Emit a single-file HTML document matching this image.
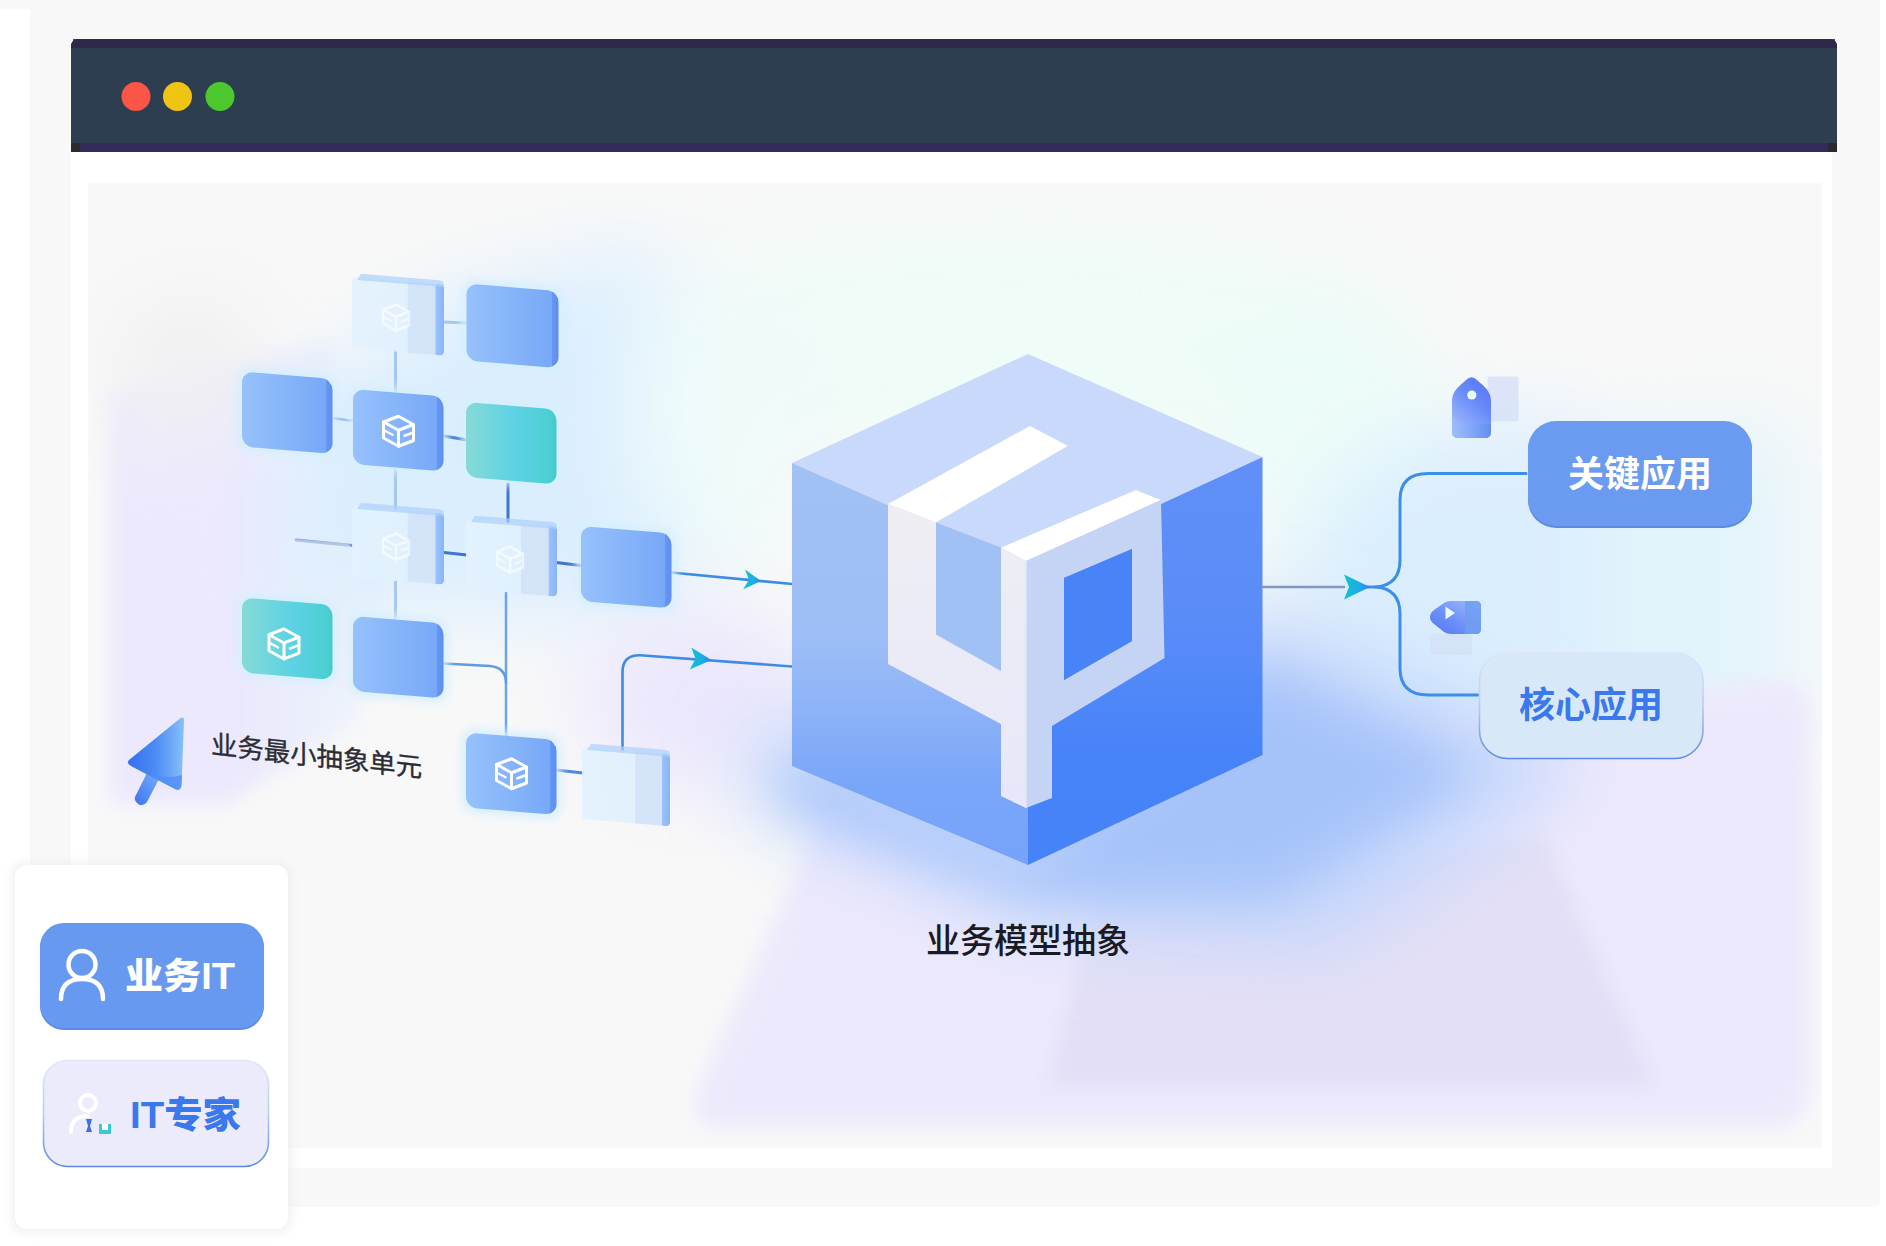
<!DOCTYPE html>
<html lang="zh-CN"><head><meta charset="utf-8"><title>业务模型抽象</title>
<style>
html,body{margin:0;padding:0;background:#fff;}
body{width:1886px;height:1246px;overflow:hidden;position:relative;font-family:"Liberation Sans","Noto Sans CJK SC",sans-serif;}
svg{position:absolute;left:0;top:0;display:block;}
text{font-family:"Liberation Sans","Noto Sans CJK SC",sans-serif;}
</style></head><body>
<svg width="1886" height="1246" viewBox="0 0 1886 1246">
<defs>
<filter id="b60" x="-50%" y="-50%" width="200%" height="200%"><feGaussianBlur stdDeviation="60"/></filter>
<filter id="b40" x="-50%" y="-50%" width="200%" height="200%"><feGaussianBlur stdDeviation="40"/></filter>
<filter id="b25" x="-50%" y="-50%" width="200%" height="200%"><feGaussianBlur stdDeviation="25"/></filter>
<filter id="b12" x="-50%" y="-50%" width="200%" height="200%"><feGaussianBlur stdDeviation="10"/></filter>
<filter id="b4" x="-50%" y="-50%" width="200%" height="200%"><feGaussianBlur stdDeviation="4"/></filter>
<clipPath id="illus"><rect x="88" y="183" width="1734" height="969"/></clipPath>
<linearGradient id="gBlue" x1="0" y1="0" x2="1" y2="0">
 <stop offset="0" stop-color="#96c1fb"/><stop offset="0.5" stop-color="#86b4f9"/><stop offset="0.925" stop-color="#78a8f8"/><stop offset="0.93" stop-color="#6696f2"/><stop offset="1" stop-color="#5e8ef0"/>
</linearGradient>
<linearGradient id="gTeal" x1="0" y1="0" x2="1" y2="0">
 <stop offset="0" stop-color="#86dad6"/><stop offset="0.55" stop-color="#5cd2e4"/><stop offset="0.93" stop-color="#4ccfd2"/><stop offset="1" stop-color="#48c8cc"/>
</linearGradient>
<linearGradient id="gPale" x1="0" y1="0" x2="1" y2="0">
 <stop offset="0" stop-color="#e3f2fe" stop-opacity="0.9"/><stop offset="0.6" stop-color="#e0f0fd" stop-opacity="0.9"/><stop offset="0.61" stop-color="#d3e4f8" stop-opacity="0.95"/><stop offset="0.905" stop-color="#d2e3f8" stop-opacity="0.95"/><stop offset="0.91" stop-color="#9cc2fa"/><stop offset="1" stop-color="#88b4f8"/>
</linearGradient>
<linearGradient id="gLeftFace" x1="0" y1="0" x2="0" y2="1">
 <stop offset="0" stop-color="#a2c1f4"/><stop offset="0.45" stop-color="#9cbdf6"/><stop offset="0.8" stop-color="#7aa6f9"/><stop offset="1" stop-color="#76a3f9"/>
</linearGradient>
<linearGradient id="gRightFace" x1="0" y1="0" x2="0" y2="1">
 <stop offset="0" stop-color="#608ff7"/><stop offset="0.4" stop-color="#5a8cf8"/><stop offset="0.7" stop-color="#4884f8"/><stop offset="1" stop-color="#4682f8"/>
</linearGradient>
<linearGradient id="gArrow" x1="0" y1="0" x2="1" y2="0">
 <stop offset="0" stop-color="#10c4cc"/><stop offset="0.6" stop-color="#1cace8"/><stop offset="1" stop-color="#3c7cf0"/>
</linearGradient>
<linearGradient id="gCursor" x1="0" y1="0" x2="1" y2="0">
 <stop offset="0" stop-color="#3470f0"/><stop offset="0.5" stop-color="#4c8cf4"/><stop offset="1" stop-color="#86c0fa"/>
</linearGradient>
<linearGradient id="gBtnBorder" x1="0" y1="0" x2="0" y2="1">
 <stop offset="0" stop-color="#dce8fa"/><stop offset="0.5" stop-color="#b8ccf4"/><stop offset="1" stop-color="#5c88e4"/>
</linearGradient>
<linearGradient id="gTag" x1="0" y1="0" x2="1" y2="1">
 <stop offset="0" stop-color="#a4befc"/><stop offset="0.5" stop-color="#7ca4f6"/><stop offset="1" stop-color="#5c88ee"/>
</linearGradient>
<linearGradient id="gLav" gradientUnits="userSpaceOnUse" x1="110" y1="0" x2="400" y2="0">
 <stop offset="0" stop-color="#ede9fd"/><stop offset="0.45" stop-color="#ebe8fd"/><stop offset="1" stop-color="#e0eefd" stop-opacity="0.3"/>
</linearGradient>
<linearGradient id="gBar" gradientUnits="userSpaceOnUse" x1="0" y1="504" x2="0" y2="808">
 <stop offset="0" stop-color="#eeeef2"/><stop offset="0.45" stop-color="#ebebf6"/><stop offset="1" stop-color="#e8e7fb"/>
</linearGradient>
<linearGradient id="gStem" x1="0" y1="1" x2="1" y2="0">
 <stop offset="0" stop-color="#3c74f2"/><stop offset="1" stop-color="#78b2fa"/>
</linearGradient>
<linearGradient id="gTagV" x1="0.8" y1="0" x2="0.2" y2="1">
 <stop offset="0" stop-color="#5474f8"/><stop offset="0.4" stop-color="#6a8cf9"/><stop offset="1" stop-color="#a6c0fc"/>
</linearGradient>
<linearGradient id="gTagB" x1="0" y1="0" x2="1" y2="0">
 <stop offset="0" stop-color="#9ebcfb"/><stop offset="0.5" stop-color="#80a8f6"/><stop offset="1" stop-color="#5f8cec"/>
</linearGradient>
<linearGradient id="gTagH" x1="0" y1="1" x2="1" y2="0">
 <stop offset="0" stop-color="#4f78f6"/><stop offset="0.45" stop-color="#6e90f8"/><stop offset="1" stop-color="#a4c0fc"/>
</linearGradient>
<g id="ico" fill="none" stroke="#fff" stroke-width="3" stroke-linejoin="round" stroke-linecap="round">
 <path d="M0,-15 L15,-8 L15,8 L0,15 L-15,8 L-15,-8 Z"/>
 <path d="M-15,-8 L0,-1 L15,-8 M0,-1 L0,15"/>
 <path d="M-15,0 L-6,4 M6,4 L15,0" stroke-width="2.5"/>
</g>
</defs>

<rect x="0" y="0" width="1886" height="1246" fill="#ffffff"/>
<rect x="0" y="0" width="1872" height="9" fill="#f8f8f8"/>
<path d="M30,0 L1880,0 L1880,1199 Q1880,1207 1872,1207 L38,1207 Q30,1207 30,1199 Z" fill="#f8f8f8"/>
<rect x="71" y="150" width="1761" height="1018" fill="#ffffff"/>
<path d="M71,152 L71,47 Q71,39 79,39 L1829,39 Q1837,39 1837,47 L1837,152 Z" fill="#2c3e50"/>
<rect x="73" y="39" width="1762" height="9" fill="#33295c" opacity="0.85"/>
<rect x="71" y="143" width="1766" height="9" fill="#33295c" opacity="0.85"/>
<path d="M71,48 L71,47 Q71,39 79,39 L1829,39 Q1837,39 1837,47 L1837,48 Z" fill="#2c2a48"/>
<rect x="71" y="143" width="9" height="9" fill="#2a2a30"/><rect x="1828" y="143" width="9" height="9" fill="#2a2a30"/>
<circle cx="136" cy="96.5" r="14.5" fill="#fb5548"/>
<circle cx="177.5" cy="96.5" r="14.5" fill="#f0c413"/>
<circle cx="220" cy="96.5" r="14.5" fill="#4cc82c"/>
<rect x="88" y="183" width="1734" height="965" fill="#f8f8f8"/>
<g clip-path="url(#illus)">
<g filter="url(#b12)">
<polygon points="110,395 330,340 400,520 360,720 225,805 110,805" fill="url(#gLav)"/>
</g>
<g filter="url(#b40)">
<polygon points="120,310 250,290 250,430 120,450" fill="#f0f0f2"/>
<polygon points="300,400 440,300 640,250 720,300 740,560 560,620 270,600" fill="#dbeefe"/>
<ellipse cx="1010" cy="340" rx="380" ry="110" fill="#effcf8"/>
<ellipse cx="720" cy="420" rx="90" ry="140" fill="#effbfa"/>
<ellipse cx="1330" cy="430" rx="110" ry="150" fill="#ecfcf8"/>
<ellipse cx="1510" cy="610" rx="220" ry="190" fill="#dbeefe"/>
<polygon points="1600,440 1790,420 1790,760 1600,760" fill="#e2f4fb"/>
<ellipse cx="700" cy="700" rx="120" ry="90" fill="#ebe7fd"/>
</g>
<g filter="url(#b12)">
<path d="M835,785 L1775,680 Q1810,680 1810,715 L1810,1085 Q1810,1128 1770,1128 L725,1128 Q685,1128 697,1090 Z" fill="#ede9fc"/>
</g>
<g filter="url(#b12)">
<polygon points="1045,1088 1100,885 1545,835 1658,1088" fill="#e3dff6"/>
</g>
<g filter="url(#b40)">
<polygon points="745,755 800,720 1262,610 1590,760 1330,945 1028,925 760,810" fill="#c2d6fc"/>
</g>
<g filter="url(#b25)">
<polygon points="780,760 1028,868 1262,665 1475,770 1275,898 1028,895 785,800" fill="#a6c3f9"/>
</g>
</g>
<path d="M395.5,350 L395.5,392" fill="none" stroke="#a6c8f0" stroke-width="3" stroke-linecap="round" stroke-linejoin="round" opacity="1" />
<path d="M395.5,470 L395.5,508" fill="none" stroke="#a6c8f0" stroke-width="3" stroke-linecap="round" stroke-linejoin="round" opacity="1" />
<path d="M395.5,582 L395.5,620" fill="none" stroke="#a6c8f0" stroke-width="3" stroke-linecap="round" stroke-linejoin="round" opacity="1" />
<path d="M443,322 L467,323" fill="none" stroke="#a6c8f0" stroke-width="3" stroke-linecap="round" stroke-linejoin="round" opacity="1" />
<path d="M332,418 L354,421" fill="none" stroke="#8fb4ea" stroke-width="2.5" stroke-linecap="round" stroke-linejoin="round" opacity="1" />
<path d="M444,436 L467,440" fill="none" stroke="#3f74d2" stroke-width="3" stroke-linecap="round" stroke-linejoin="round" opacity="1" />
<path d="M508,484 L508,522" fill="none" stroke="#3f74d2" stroke-width="3" stroke-linecap="round" stroke-linejoin="round" opacity="1" />
<path d="M296,540 L352,545.5" fill="none" stroke="#7c98d0" stroke-width="3" stroke-linecap="round" stroke-linejoin="round" opacity="1" />
<path d="M444,552.5 L467,555" fill="none" stroke="#3f74d2" stroke-width="3" stroke-linecap="round" stroke-linejoin="round" opacity="1" />
<path d="M556,562.5 L581,565.5" fill="none" stroke="#3f74d2" stroke-width="3" stroke-linecap="round" stroke-linejoin="round" opacity="1" />
<path d="M506,592 L506,736" fill="none" stroke="#6ca4e4" stroke-width="2.5" stroke-linecap="round" stroke-linejoin="round" opacity="1" />
<path d="M444,663.5 L490,666 Q506,667.5 506,683" fill="none" stroke="#5c9ce4" stroke-width="2.5" stroke-linecap="round" stroke-linejoin="round" opacity="1" />
<path d="M556,770 L583,773" fill="none" stroke="#4c88e0" stroke-width="3" stroke-linecap="round" stroke-linejoin="round" opacity="1" />
<path d="M671,572.5 L792,584" fill="none" stroke="#3c8ce4" stroke-width="2.6" stroke-linecap="round" stroke-linejoin="round" opacity="1" />
<path d="M622.5,752 L622.5,672 Q622.5,655 640,655.2 L792,666.5" fill="none" stroke="#3c8ce4" stroke-width="2.6" stroke-linecap="round" stroke-linejoin="round" opacity="1" />
<g transform="translate(761,581) rotate(5.4)"><path d="M0,0 L-17,-10 L-12,0 L-17,10 Z" fill="url(#gArrow)"/></g>
<g transform="translate(711.5,660) rotate(4.2)"><path d="M0,0 L-21,-11 L-16,0 L-21,11 Z" fill="url(#gArrow)"/></g>
<g transform="translate(282,538) skewY(4.9)" opacity="0.5"><rect width="70" height="62" rx="6" fill="#e4f0fc"/></g>
<g transform="translate(352,277) skewY(4.7)" opacity="1">
<rect x="0" y="0" width="92" height="71" rx="4" fill="url(#gPale)"/>
<path d="M9,-4 L87,-4 Q92,-4 92,0 L92,2.5 L5,2.5 Z" fill="#acd0fb" opacity="0.7"/>
<use href="#ico" transform="translate(44,37) scale(0.86)" opacity="0.6"/>
</g>
<g transform="translate(466.5,283.5) skewY(4.7)" opacity="1">
<rect x="-5" y="-5" width="102" height="87" rx="14" fill="#d6effe" opacity="0.9" filter="url(#b4)"/>
<rect x="0" y="0" width="92" height="77" rx="11" fill="url(#gBlue)"/>
</g>
<g transform="translate(242,371.5) skewY(4.7)" opacity="1">
<rect x="-5" y="-5" width="100.5" height="85" rx="14" fill="#d6effe" opacity="0.9" filter="url(#b4)"/>
<rect x="0" y="0" width="90.5" height="75" rx="11" fill="url(#gBlue)"/>
</g>
<g transform="translate(353,389) skewY(4.7)" opacity="1">
<rect x="-5" y="-5" width="100.5" height="85" rx="14" fill="#d6effe" opacity="0.9" filter="url(#b4)"/>
<rect x="0" y="0" width="90.5" height="75" rx="11" fill="url(#gBlue)"/>
<use href="#ico" x="45.5" y="38.5"/>
</g>
<g transform="translate(466,402) skewY(4.7)" opacity="1">
<rect x="-5" y="-5" width="100.5" height="85" rx="14" fill="#d6effe" opacity="0.9" filter="url(#b4)"/>
<rect x="0" y="0" width="90.5" height="75" rx="11" fill="url(#gTeal)"/>
</g>
<g transform="translate(352,506) skewY(4.7)" opacity="1">
<rect x="0" y="0" width="92" height="71" rx="4" fill="url(#gPale)"/>
<path d="M9,-4 L87,-4 Q92,-4 92,0 L92,2.5 L5,2.5 Z" fill="#acd0fb" opacity="0.7"/>
<use href="#ico" transform="translate(44,37) scale(0.86)" opacity="0.6"/>
</g>
<g transform="translate(466,519) skewY(4.7)" opacity="1">
<rect x="0" y="0" width="91" height="70" rx="4" fill="url(#gPale)"/>
<path d="M9,-4 L86,-4 Q91,-4 91,0 L91,2.5 L5,2.5 Z" fill="#acd0fb" opacity="0.7"/>
<use href="#ico" transform="translate(44,37) scale(0.86)" opacity="0.6"/>
</g>
<g transform="translate(581,526) skewY(4.7)" opacity="1">
<rect x="-5" y="-5" width="100.5" height="85" rx="14" fill="#d6effe" opacity="0.9" filter="url(#b4)"/>
<rect x="0" y="0" width="90.5" height="75" rx="11" fill="url(#gBlue)"/>
</g>
<g transform="translate(242,597.5) skewY(4.7)" opacity="1">
<rect x="-5" y="-5" width="100.5" height="85" rx="14" fill="#d6effe" opacity="0.9" filter="url(#b4)"/>
<rect x="0" y="0" width="90.5" height="75" rx="11" fill="url(#gTeal)"/>
<use href="#ico" x="42" y="43"/>
</g>
<g transform="translate(353,616) skewY(4.7)" opacity="1">
<rect x="-5" y="-5" width="100.5" height="85" rx="14" fill="#d6effe" opacity="0.9" filter="url(#b4)"/>
<rect x="0" y="0" width="90.5" height="75" rx="11" fill="url(#gBlue)"/>
</g>
<g transform="translate(466,732.5) skewY(4.7)" opacity="1">
<rect x="-5" y="-5" width="100.5" height="85" rx="14" fill="#d6effe" opacity="0.9" filter="url(#b4)"/>
<rect x="0" y="0" width="90.5" height="75" rx="11" fill="url(#gBlue)"/>
<use href="#ico" x="45.5" y="37.5"/>
</g>
<g transform="translate(582,747) skewY(4.7)" opacity="1">
<rect x="0" y="0" width="88" height="72" rx="4" fill="url(#gPale)"/>
<path d="M9,-4 L83,-4 Q88,-4 88,0 L88,2.5 L5,2.5 Z" fill="#acd0fb" opacity="0.7"/>
</g>
<g transform="translate(211,753.5) skewY(6.4)"><text x="0" y="0" font-size="26.4" fill="#2c2c34" stroke="#2c2c34" stroke-width="0.35">业务最小抽象单元</text></g>
<g>
<path d="M148,771 L160,777 L147,802 Q142,808 137,803 Q133,799 136,795 Z" fill="url(#gStem)"/>
<path d="M129,760 L180,718.5 Q184,715.5 184,720.5 L181.5,785 Q181,791 176,789.5 L131,766 Q126,763 129,760 Z" fill="url(#gCursor)"/>
<path d="M130,765.5 L176,789.5 Q181,791 181.5,785 L182,775 Q160,782 130,765.5 Z" fill="#4f8ef5" opacity="0.75"/>
</g>
<polygon points="1028,354 1262.5,457 1027,566 792,463" fill="#c9d9fb"/>
<polygon points="792,463 1027,566 1028,865 792,766" fill="url(#gLeftFace)"/>
<polygon points="1027,566 1262.5,457 1262.5,755 1028,865" fill="url(#gRightFace)"/>
<polygon points="888,504 1030,426 1068,446 936,522.5" fill="#ffffff"/>
<polygon points="1001,547.5 1135.5,490 1161,500 1026,561" fill="#ffffff"/>
<polygon points="936,522.5 1068,446 1135.5,490 1001,547.5" fill="#c9d9fb"/>
<polygon points="936,522.5 1001,547.5 1001,671 936,634.5" fill="#a1c0f4"/>
<polygon points="888,504 936,522.5 936,634.5 1001,671 1001,547.5 1026,561 1026,808 1001,796 1001,724 888,664" fill="url(#gBar)"/>
<path fill-rule="evenodd" fill="#c5d4f5" d="M1026,561 L1161,500 L1164.5,658 L1052,726 L1052,798 L1026,808 Z M1064,578 L1132,549 L1132,641 L1064,680 Z"/>
<polygon points="1064,578 1132,549 1132,641 1064,680" fill="#4884f8"/>
<path d="M1026,561 L1026,808" stroke="#dfe6fb" stroke-width="1.5"/>
<text x="1028" y="952.5" font-size="34" font-weight="500" text-anchor="middle" fill="#1a1a22">业务模型抽象</text>
<path d="M1263,587 L1344,587" fill="none" stroke="#8099bd" stroke-width="2.5" stroke-linecap="round" stroke-linejoin="round" opacity="1" />
<path d="M1366,587 L1376,587 Q1400,585 1400,560 L1400,500 Q1400,473.5 1428,473.5 L1526,473.5" fill="none" stroke="#3c8fe8" stroke-width="3" stroke-linecap="round" stroke-linejoin="round" opacity="1" />
<path d="M1376,587 Q1400,589 1400,614 L1400,668 Q1400,695 1428,695 L1478,695" fill="none" stroke="#3c8fe8" stroke-width="3" stroke-linecap="round" stroke-linejoin="round" opacity="1" />
<g transform="translate(1370,587) rotate(0)"><path d="M0,0 L-26,-12.5 L-21,0 L-26,12.5 Z" fill="url(#gArrow)"/></g>
<rect x="1487.5" y="376.5" width="31" height="45" rx="3" fill="#d9e3f8" opacity="0.95"/>
<path d="M1458,438 Q1452,438 1452,432 L1452,401 C1452,390 1461,385 1466,380 Q1471.5,374.5 1477,380 C1482,385 1491,390 1491,401 L1491,432 Q1491,438 1485,438 Z" fill="url(#gTagV)"/>
<path d="M1452,416 Q1458,424 1470,424 L1491,424 L1491,432 Q1491,438 1485,438 L1458,438 Q1452,438 1452,432 Z" fill="url(#gTagB)" opacity="0.9"/>
<circle cx="1471.8" cy="395" r="4.6" fill="#e8fff6"/>
<rect x="1430" y="634" width="42" height="21" rx="2" fill="#d5e3f8" opacity="0.95"/>
<path d="M1430,617 Q1430,613 1434,610 L1444,603 Q1447,601 1451,601 L1476,601 Q1481,601 1481,606 L1481,629 Q1481,634 1476,634 L1451,634 Q1447,634 1444,632 L1434,624 Q1430,621 1430,617 Z" fill="url(#gTagH)"/>
<path d="M1465,601 L1476,601 Q1481,601 1481,606 L1481,629 Q1481,634 1476,634 L1465,634 Z" fill="#6f9ef2" opacity="0.85"/>
<path d="M1445.5,606.5 L1455,613 L1445.5,619.5 Z" fill="#eaf8ff"/>
<rect x="1528" y="422" width="224" height="106" rx="28" fill="#5d8be4"/>
<rect x="1528" y="421" width="224" height="105" rx="28" fill="#6a9bf0"/>
<text x="1640" y="487" font-size="36" font-weight="700" text-anchor="middle" fill="#ffffff" style="font-family:'Liberation Sans','Noto Sans CJK SC',sans-serif">关键应用</text>
<rect x="1479.5" y="652.5" width="223.5" height="106" rx="28" fill="#d8e8f8" stroke="url(#gBtnBorder)" stroke-width="1.6"/>
<text x="1591" y="718" font-size="36" font-weight="700" text-anchor="middle" fill="#3a78ee">核心应用</text>
<rect x="11" y="862" width="281" height="371" rx="14" fill="#ececf0" opacity="0.7" filter="url(#b4)"/>
<rect x="15" y="865" width="273" height="364" rx="12" fill="#ffffff"/>
<rect x="40" y="924" width="224" height="106" rx="24" fill="#5d8be4"/>
<rect x="40" y="923" width="224" height="105" rx="24" fill="#6899f0"/>
<g fill="none" stroke="#ffffff" stroke-width="4.5" stroke-linecap="round"><circle cx="82" cy="964.5" r="13.5"/><path d="M61,999 Q61,979 82,979 Q103,979 103,999"/></g>
<text x="125" y="989" font-size="36" font-weight="900" fill="#ffffff" textLength="110" lengthAdjust="spacingAndGlyphs">业务IT</text>
<rect x="43.5" y="1060.5" width="225" height="106" rx="24" fill="#ecebfc" stroke="url(#gBtnBorder)" stroke-width="1.6"/>
<g fill="none" stroke="#ffffff" stroke-width="4" stroke-linecap="round"><circle cx="88" cy="1103" r="8"/><path d="M71,1132 Q71,1116 88,1116"/></g>
<path d="M86,1119 L92,1119 L90,1126 L92,1132 L86,1132 L88,1126 Z" fill="#3c6cf0"/>
<rect x="99" y="1124" width="12" height="10" fill="#38c8d8"/><rect x="102" y="1124" width="6" height="6" fill="#fff"/>
<text x="130" y="1128" font-size="36" font-weight="900" fill="#3a78ee" textLength="111" lengthAdjust="spacingAndGlyphs">IT专家</text>
</svg></body></html>
